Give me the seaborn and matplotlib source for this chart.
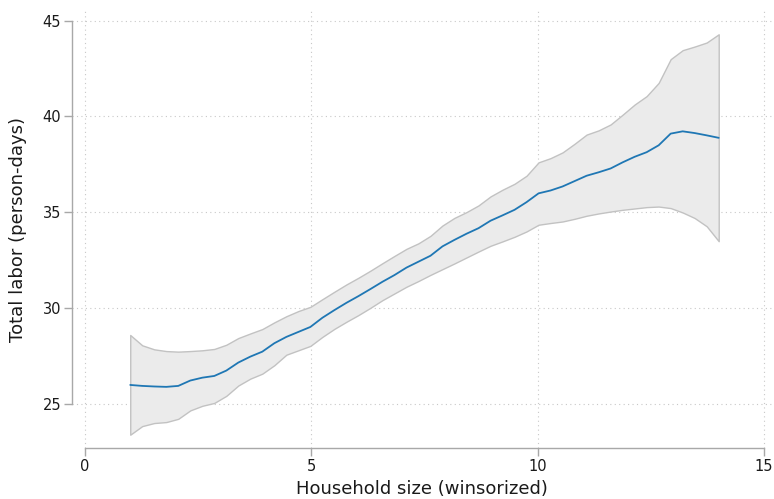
import numpy as np
import pandas as pd
import matplotlib
matplotlib.use("Agg")
import matplotlib.pyplot as plt
import seaborn as sns

# ---- data ----
hh_size = np.linspace(1, 14, 50)
labor_mean = [25.97, 25.92, 25.89, 25.87, 25.92, 26.20, 26.35, 26.44, 26.72, 27.14,
              27.45, 27.71, 28.15, 28.48, 28.74, 29.00, 29.48, 29.88, 30.26, 30.61,
              30.98, 31.36, 31.71, 32.10, 32.41, 32.72, 33.21, 33.55, 33.87, 34.16,
              34.55, 34.83, 35.12, 35.52, 35.98, 36.13, 36.34, 36.62, 36.90, 37.08,
              37.28, 37.60, 37.89, 38.13, 38.49, 39.10, 39.22, 39.13, 39.01, 38.88]
labor_upper = [28.58, 28.04, 27.83, 27.74, 27.71, 27.74, 27.78, 27.85, 28.07, 28.42,
               28.66, 28.89, 29.24, 29.56, 29.83, 30.05, 30.45, 30.84, 31.22, 31.57,
               31.94, 32.33, 32.71, 33.08, 33.37, 33.76, 34.30, 34.70, 35.00, 35.35,
               35.82, 36.17, 36.48, 36.90, 37.60, 37.82, 38.12, 38.57, 39.05, 39.27,
               39.58, 40.09, 40.62, 41.06, 41.75, 42.99, 43.46, 43.65, 43.86, 44.29]
labor_lower = [23.37, 23.82, 23.98, 24.03, 24.20, 24.64, 24.88, 25.03, 25.40, 25.94,
               26.30, 26.56, 27.00, 27.55, 27.78, 28.01, 28.48, 28.90, 29.27, 29.62,
               30.00, 30.40, 30.75, 31.10, 31.40, 31.72, 32.02, 32.32, 32.63, 32.94,
               33.24, 33.47, 33.71, 33.99, 34.34, 34.43, 34.51, 34.65, 34.81, 34.93,
               35.03, 35.12, 35.19, 35.26, 35.29, 35.21, 34.98, 34.69, 34.26, 33.48]
x_ticks = [0, 5, 10, 15]
y_ticks = [25, 30, 35, 40, 45]
x_label = "Household size (winsorized)"
y_label = "Total labor (person-days)"

df = pd.DataFrame({"hh": hh_size, "mean": labor_mean,
                   "lo": labor_lower, "hi": labor_upper})

sns.set_style("white")
plt.rcParams["font.family"] = ["DejaVu Sans"]

fig = plt.figure(figsize=(7.74, 4.99), dpi=100)
ax = fig.add_axes([0.0934, 0.1016, 0.9036, 0.8784])

ax.fill_between(df["hh"], df["lo"], df["hi"], facecolor="#ebebeb",
                edgecolor="#c2c2c2", linewidth=1.0, zorder=2)
sns.lineplot(data=df, x="hh", y="mean", ax=ax, color="#1f77b4",
             linewidth=1.3, zorder=3)

ax.set_xlim(-0.28, 15.17)
ax.set_ylim(22.66, 45.56)
ax.set_xticks(x_ticks)
ax.set_yticks(y_ticks)
ax.grid(True, linestyle=(0, (1, 3)), color="#c8c8c8", linewidth=0.8, zorder=0)
ax.set_axisbelow(True)

for side in ["top", "right"]:
    ax.spines[side].set_visible(False)
for side in ["left", "bottom"]:
    ax.spines[side].set_color("#a8a8a8")
    ax.spines[side].set_linewidth(1.0)
ax.spines["left"].set_bounds(25, 45)
ax.spines["bottom"].set_bounds(0, 15)

ax.tick_params(axis="both", which="major", bottom=True, left=True,
               direction="out", length=5.5, width=1.0,
               color="#a8a8a8", labelsize=10.5, labelcolor="#1a1a1a", pad=2.5)
ax.set_xlabel(x_label, fontsize=13, color="#1a1a1a", labelpad=4)
ax.set_ylabel(y_label, fontsize=13, color="#1a1a1a", labelpad=11)

fig.savefig("out.png", dpi=100)
